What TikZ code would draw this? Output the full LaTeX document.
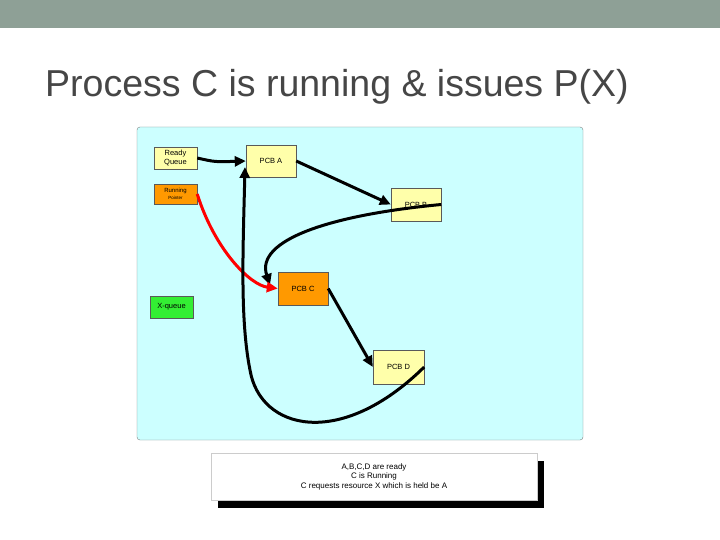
\documentclass[tikz,border=0pt]{standalone}
\usepackage{fontspec}
\setmainfont{Liberation Sans}
\usetikzlibrary{arrows.meta}
\begin{document}
\begin{tikzpicture}[x=1pt,y=-1pt,
  box/.style={draw=gray!70!black,line width=0.4pt,minimum width=#1,inner sep=0pt,font=\fontsize{7.5}{8.5}\selectfont,align=center},
  box/.default=50pt,
  conn/.style={line width=3pt,-{Triangle[length=11pt,width=10pt]}}]
\useasboundingbox (0,0) rectangle (720,540);
\fill[white] (0,0) rectangle (720,540);
\fill[fill={rgb,255:red,142;green,160;blue,150}] (0,0) rectangle (720,28);
\node[anchor=base west,text={rgb,255:red,70;green,70;blue,70},font=\fontsize{37.5}{40}\selectfont,inner sep=0pt] (title) at (45,97) {Process C is running \& issues P(X)};
\draw[gray,fill={rgb,255:red,204;green,255;blue,255},rounded corners=3pt] (137,127) rectangle (583,440);
\node[box=43pt,minimum height=22pt,fill={rgb,255:red,255;green,255;blue,170}] (rq) at (175.5,158) {Ready\\Queue};
\node[box=43pt,minimum height=20pt,fill={rgb,255:red,255;green,153;blue,0},font=\fontsize{6}{6.5}\selectfont] (rp) at (175.5,194) {Running\\{\fontsize{4.5}{5}\selectfont Pointer}};
\node[box=50pt,minimum height=32pt,fill={rgb,255:red,255;green,255;blue,170}] (a) at (271,161) {PCB A};
\node[box=50pt,minimum height=33pt,fill={rgb,255:red,255;green,255;blue,170}] (b) at (416,204.5) {PCB B};
\node[box=50pt,minimum height=33pt,fill={rgb,255:red,255;green,153;blue,0}] (c) at (303,288.5) {PCB C};
\node[box=43pt,minimum height=22pt,fill={rgb,255:red,51;green,238;blue,51}] (x) at (171.5,307) {X-queue};
\node[box=51pt,minimum height=34pt,fill={rgb,255:red,255;green,255;blue,170}] (d) at (398.5,367) {PCB D};
\fill[black] (218,461) rectangle (544,508);
\node[draw=gray!40,fill=white,minimum width=326pt,minimum height=47pt,inner sep=0pt,align=center,font=\fontsize{8}{9.5}\selectfont] (cap) at (374,476.5) {A,B,C,D are ready\\C is Running\\C requests resource X which is held be A};
\draw[conn] (rq.east) .. controls (215,162) .. (a.west);
\draw[conn] (a.east) -- (b.west);
\draw[conn] (b.east) .. controls (330,215) and (255,240) .. (270,285);
\draw[conn,red] (rp.east) .. controls (215,250) and (250,285) .. (c.west);
\draw[conn] (c.east) -- (d.west);
\draw[conn] (d.east) .. controls (340,450) and (260,430) .. (250,370) .. controls (240,320) and (243,250) .. (245,167);
\end{tikzpicture}
\end{document}
